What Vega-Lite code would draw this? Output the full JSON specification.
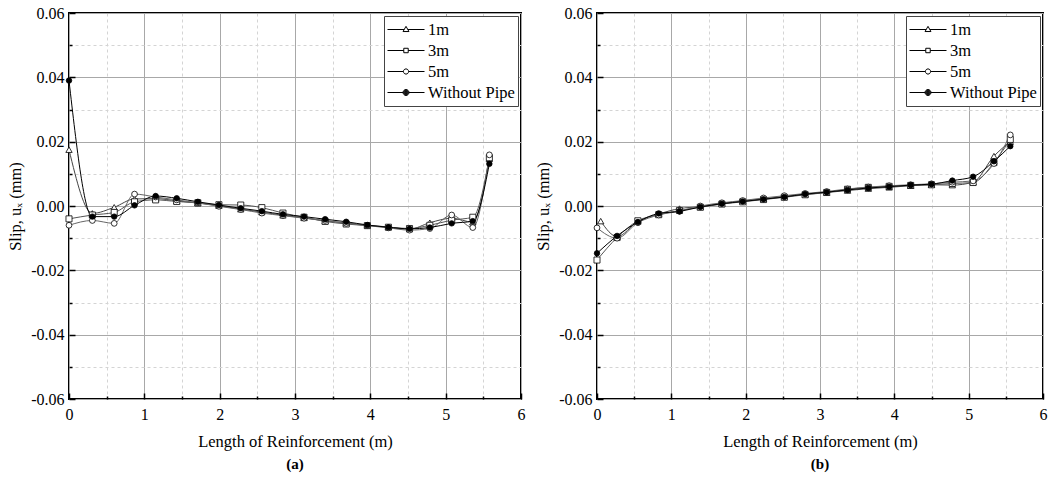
{
"$schema": "https://vega.github.io/schema/vega-lite/v6.json",
"background": "white",
"padding": {"left": 6, "top": 4, "right": 0, "bottom": 0},
"config": {
  "font": "Liberation Serif, Tinos, Times New Roman, DejaVu Serif, serif",
  "view": {"stroke": "black", "strokeWidth": 2},
  "axis": {"labelFont": "Liberation Serif, Tinos, Times New Roman, DejaVu Serif, serif", "titleFont": "Liberation Serif, Tinos, Times New Roman, DejaVu Serif, serif", "labelColor": "black", "titleColor": "black", "titleFontWeight": "normal", "domain": false, "tickColor": "black", "labelFlush": false},
  "legend": {"labelFont": "Liberation Serif, Tinos, Times New Roman, DejaVu Serif, serif"},
  "title": {"font": "Liberation Serif, Tinos, Times New Roman, DejaVu Serif, serif"}
},
"datasets": {
"a": [
{"s":"1m","x":0,"y":0.0175},{"s":"1m","x":0.31,"y":-0.0023},{"s":"1m","x":0.60,"y":-0.0004},{"s":"1m","x":0.87,"y":0.0022},{"s":"1m","x":1.15,"y":0.0023},{"s":"1m","x":1.43,"y":0.0016},{"s":"1m","x":1.71,"y":0.0009},{"s":"1m","x":1.99,"y":0.0001},{"s":"1m","x":2.28,"y":-0.0010},{"s":"1m","x":2.56,"y":-0.0019},{"s":"1m","x":2.84,"y":-0.0029},{"s":"1m","x":3.12,"y":-0.0037},{"s":"1m","x":3.40,"y":-0.0046},{"s":"1m","x":3.68,"y":-0.0053},{"s":"1m","x":3.96,"y":-0.0060},{"s":"1m","x":4.24,"y":-0.0065},{"s":"1m","x":4.52,"y":-0.0072},{"s":"1m","x":4.79,"y":-0.0052},{"s":"1m","x":5.08,"y":-0.0038},{"s":"1m","x":5.36,"y":-0.0050},{"s":"1m","x":5.58,"y":0.0147},
{"s":"3m","x":0,"y":-0.0040},{"s":"3m","x":0.31,"y":-0.0028},{"s":"3m","x":0.60,"y":-0.0020},{"s":"3m","x":0.87,"y":0.0013},{"s":"3m","x":1.15,"y":0.0019},{"s":"3m","x":1.43,"y":0.0014},{"s":"3m","x":1.71,"y":0.0010},{"s":"3m","x":1.99,"y":0.0004},{"s":"3m","x":2.28,"y":0.0003},{"s":"3m","x":2.56,"y":-0.0005},{"s":"3m","x":2.84,"y":-0.0022},{"s":"3m","x":3.12,"y":-0.0035},{"s":"3m","x":3.40,"y":-0.0048},{"s":"3m","x":3.68,"y":-0.0056},{"s":"3m","x":3.96,"y":-0.0061},{"s":"3m","x":4.24,"y":-0.0066},{"s":"3m","x":4.52,"y":-0.0070},{"s":"3m","x":4.79,"y":-0.0060},{"s":"3m","x":5.08,"y":-0.0044},{"s":"3m","x":5.36,"y":-0.0035},{"s":"3m","x":5.58,"y":0.0150},
{"s":"5m","x":0,"y":-0.0060},{"s":"5m","x":0.31,"y":-0.0045},{"s":"5m","x":0.60,"y":-0.0054},{"s":"5m","x":0.87,"y":0.0037},{"s":"5m","x":1.15,"y":0.0028},{"s":"5m","x":1.43,"y":0.0019},{"s":"5m","x":1.71,"y":0.0010},{"s":"5m","x":1.99,"y":-0.0001},{"s":"5m","x":2.28,"y":-0.0011},{"s":"5m","x":2.56,"y":-0.0022},{"s":"5m","x":2.84,"y":-0.0030},{"s":"5m","x":3.12,"y":-0.0038},{"s":"5m","x":3.40,"y":-0.0045},{"s":"5m","x":3.68,"y":-0.0054},{"s":"5m","x":3.96,"y":-0.0061},{"s":"5m","x":4.24,"y":-0.0068},{"s":"5m","x":4.52,"y":-0.0075},{"s":"5m","x":4.79,"y":-0.0070},{"s":"5m","x":5.08,"y":-0.0028},{"s":"5m","x":5.36,"y":-0.0067},{"s":"5m","x":5.58,"y":0.0159},
{"s":"Without Pipe","x":0,"y":0.0390},{"s":"Without Pipe","x":0.31,"y":-0.0033},{"s":"Without Pipe","x":0.60,"y":-0.0033},{"s":"Without Pipe","x":0.87,"y":0.0002},{"s":"Without Pipe","x":1.15,"y":0.0031},{"s":"Without Pipe","x":1.43,"y":0.0024},{"s":"Without Pipe","x":1.71,"y":0.0013},{"s":"Without Pipe","x":1.99,"y":0.0003},{"s":"Without Pipe","x":2.28,"y":-0.0007},{"s":"Without Pipe","x":2.56,"y":-0.0016},{"s":"Without Pipe","x":2.84,"y":-0.0026},{"s":"Without Pipe","x":3.12,"y":-0.0033},{"s":"Without Pipe","x":3.40,"y":-0.0041},{"s":"Without Pipe","x":3.68,"y":-0.0049},{"s":"Without Pipe","x":3.96,"y":-0.0059},{"s":"Without Pipe","x":4.24,"y":-0.0066},{"s":"Without Pipe","x":4.52,"y":-0.0071},{"s":"Without Pipe","x":4.79,"y":-0.0067},{"s":"Without Pipe","x":5.08,"y":-0.0054},{"s":"Without Pipe","x":5.36,"y":-0.0047},{"s":"Without Pipe","x":5.58,"y":0.0131}
],
"b": [
{"s":"1m","x":0.05,"y":-0.0047},{"s":"1m","x":0.27,"y":-0.0095},{"s":"1m","x":0.55,"y":-0.0048},{"s":"1m","x":0.83,"y":-0.0025},{"s":"1m","x":1.11,"y":-0.0008},{"s":"1m","x":1.39,"y":-0.0002},{"s":"1m","x":1.68,"y":0.0008},{"s":"1m","x":1.96,"y":0.0016},{"s":"1m","x":2.24,"y":0.0022},{"s":"1m","x":2.52,"y":0.0030},{"s":"1m","x":2.80,"y":0.0036},{"s":"1m","x":3.09,"y":0.0042},{"s":"1m","x":3.37,"y":0.0048},{"s":"1m","x":3.65,"y":0.0054},{"s":"1m","x":3.93,"y":0.0058},{"s":"1m","x":4.22,"y":0.0063},{"s":"1m","x":4.50,"y":0.0066},{"s":"1m","x":4.78,"y":0.0065},{"s":"1m","x":5.06,"y":0.0074},{"s":"1m","x":5.34,"y":0.0155},{"s":"1m","x":5.56,"y":0.0200},
{"s":"3m","x":0,"y":-0.0168},{"s":"3m","x":0.27,"y":-0.0098},{"s":"3m","x":0.55,"y":-0.0046},{"s":"3m","x":0.83,"y":-0.0027},{"s":"3m","x":1.11,"y":-0.0014},{"s":"3m","x":1.39,"y":-0.0004},{"s":"3m","x":1.68,"y":0.0006},{"s":"3m","x":1.96,"y":0.0013},{"s":"3m","x":2.24,"y":0.0020},{"s":"3m","x":2.52,"y":0.0027},{"s":"3m","x":2.80,"y":0.0035},{"s":"3m","x":3.09,"y":0.0042},{"s":"3m","x":3.37,"y":0.0052},{"s":"3m","x":3.65,"y":0.0058},{"s":"3m","x":3.93,"y":0.0061},{"s":"3m","x":4.22,"y":0.0064},{"s":"3m","x":4.50,"y":0.0066},{"s":"3m","x":4.78,"y":0.0070},{"s":"3m","x":5.06,"y":0.0073},{"s":"3m","x":5.34,"y":0.0135},{"s":"3m","x":5.56,"y":0.0207},
{"s":"5m","x":0,"y":-0.0068},{"s":"5m","x":0.27,"y":-0.0100},{"s":"5m","x":0.55,"y":-0.0052},{"s":"5m","x":0.83,"y":-0.0028},{"s":"5m","x":1.11,"y":-0.0016},{"s":"5m","x":1.39,"y":0.0000},{"s":"5m","x":1.68,"y":0.0010},{"s":"5m","x":1.96,"y":0.0017},{"s":"5m","x":2.24,"y":0.0025},{"s":"5m","x":2.52,"y":0.0032},{"s":"5m","x":2.80,"y":0.0039},{"s":"5m","x":3.09,"y":0.0045},{"s":"5m","x":3.37,"y":0.0053},{"s":"5m","x":3.65,"y":0.0059},{"s":"5m","x":3.93,"y":0.0063},{"s":"5m","x":4.22,"y":0.0066},{"s":"5m","x":4.50,"y":0.0069},{"s":"5m","x":4.78,"y":0.0074},{"s":"5m","x":5.06,"y":0.0078},{"s":"5m","x":5.34,"y":0.0132},{"s":"5m","x":5.56,"y":0.0221},
{"s":"Without Pipe","x":0,"y":-0.0147},{"s":"Without Pipe","x":0.27,"y":-0.0093},{"s":"Without Pipe","x":0.55,"y":-0.0050},{"s":"Without Pipe","x":0.83,"y":-0.0023},{"s":"Without Pipe","x":1.11,"y":-0.0017},{"s":"Without Pipe","x":1.39,"y":-0.0003},{"s":"Without Pipe","x":1.68,"y":0.0007},{"s":"Without Pipe","x":1.96,"y":0.0014},{"s":"Without Pipe","x":2.24,"y":0.0021},{"s":"Without Pipe","x":2.52,"y":0.0028},{"s":"Without Pipe","x":2.80,"y":0.0037},{"s":"Without Pipe","x":3.09,"y":0.0043},{"s":"Without Pipe","x":3.37,"y":0.0050},{"s":"Without Pipe","x":3.65,"y":0.0056},{"s":"Without Pipe","x":3.93,"y":0.0060},{"s":"Without Pipe","x":4.22,"y":0.0065},{"s":"Without Pipe","x":4.50,"y":0.0068},{"s":"Without Pipe","x":4.78,"y":0.0079},{"s":"Without Pipe","x":5.06,"y":0.0091},{"s":"Without Pipe","x":5.34,"y":0.0139},{"s":"Without Pipe","x":5.56,"y":0.0186}
]
},
"spacing": 8,
"resolve": {"scale": {"shape": "independent", "fill": "independent", "color": "independent", "size": "independent"}},
"hconcat": [
{
  "width": 452, "height": 386,
  "data": {"name": "a"},
  "title": {"text": "(a)", "orient": "bottom", "frame": "group", "anchor": "middle", "fontSize": 15, "fontWeight": "bold", "color": "black", "offset": 7},
  "resolve": {"axis": {"x": "independent", "y": "independent"}, "scale": {"shape": "independent"}},
  "layer": [
    {
      "mark": {"type": "line", "interpolate": "monotone", "strokeWidth": 1},
      "encoding": {
        "x": {"field": "x", "type": "quantitative", "scale": {"domain": [0, 6], "nice": false, "zero": false},
          "axis": {"orient": "bottom", "values": [0.5, 1.5, 2.5, 3.5, 4.5, 5.5], "labels": false, "title": null, "grid": true, "gridDash": [3, 3], "gridColor": "#d4d4d4", "tickSize": -3, "tickWidth": 1.5}},
        "y": {"field": "y", "type": "quantitative", "scale": {"domain": [-0.06, 0.06], "nice": false, "zero": false},
          "axis": {"orient": "left", "values": [-0.05, -0.03, -0.01, 0.01, 0.03, 0.05], "labels": false, "title": null, "grid": true, "gridDash": [3, 3], "gridColor": "#d4d4d4", "tickSize": -3, "tickWidth": 1.5}},
        "color": {"field": "s", "type": "nominal", "scale": {"domain": ["1m", "3m", "5m", "Without Pipe"], "range": ["#444444", "#555555", "#666666", "#000000"]}, "legend": null}
      }
    },
    {
      "mark": {"type": "point", "filled": true, "stroke": "black", "strokeWidth": 0.8, "opacity": 1},
      "encoding": {
        "x": {"field": "x", "type": "quantitative",
          "axis": {"orient": "bottom", "values": [0, 1, 2, 3, 4, 5, 6], "format": "d", "grid": true, "gridColor": "#a8a8a8", "tickSize": -6, "tickWidth": 1.5, "labelPadding": 13, "labelFontSize": 16, "labelFont": "Liberation Serif, Tinos, Times New Roman, serif", "title": "Length of Reinforcement (m)", "titleFont": "Liberation Serif, Tinos, Times New Roman, serif", "titleFontSize": 16.5, "titlePadding": 11}},
        "y": {"field": "y", "type": "quantitative",
          "axis": {"orient": "left", "values": [-0.06, -0.04, -0.02, 0, 0.02, 0.04, 0.06], "labelExpr": "replace(format(datum.value, '.2f'), '\u2212', '-')", "grid": true, "gridColor": "#a8a8a8", "tickSize": -6, "tickWidth": 1.5, "labelPadding": 11, "labelFontSize": 16, "labelFont": "Liberation Serif, Tinos, Times New Roman, serif", "title": "Slip, uₓ (mm)", "titleFont": "Liberation Serif, Tinos, Times New Roman, serif", "titleFontSize": 16.5, "titlePadding": 7}},
        "shape": {"field": "s", "type": "nominal", "scale": {"domain": ["1m", "3m", "5m", "Without Pipe"], "range": ["triangle-up", "square", "circle", "circle"]}, "legend": null},
        "fill": {"field": "s", "type": "nominal", "scale": {"domain": ["1m", "3m", "5m", "Without Pipe"], "range": ["white", "white", "white", "black"]}, "legend": null},
        "size": {"field": "s", "type": "nominal", "scale": {"domain": ["1m", "3m", "5m", "Without Pipe"], "range": [40, 30, 45, 70]}, "legend": null}
      }
    },
    {
      "transform": [{"filter": "false"}],
      "mark": {"type": "point", "filled": false, "stroke": "black", "strokeWidth": 1, "opacity": 1, "size": 1369},
      "encoding": {
        "shape": {"field": "s", "type": "nominal", "scale": {"domain": ["1m", "3m", "5m", "Without Pipe"], "range": ["M-1,0H-0.1M0.1,0H1M0,-0.17L0.16,0.11L-0.16,0.11Z", "M-1,0H-0.12M0.12,0H1M-0.12,-0.12H0.12V0.12H-0.12Z", "M-1,0H-0.14M0.14,0H1M-0.14,0A0.14,0.14 0 1,0 0.14,0A0.14,0.14 0 1,0 -0.14,0Z", "M-1,0H-0.16M0.16,0H1M-0.16,0A0.16,0.16 0 1,0 0.16,0A0.16,0.16 0 1,0 -0.16,0ZM-0.13,0A0.13,0.13 0 1,0 0.13,0A0.13,0.13 0 1,0 -0.13,0ZM-0.1,0A0.1,0.1 0 1,0 0.1,0A0.1,0.1 0 1,0 -0.1,0ZM-0.07,0A0.07,0.07 0 1,0 0.07,0A0.07,0.07 0 1,0 -0.07,0ZM-0.04,0A0.04,0.04 0 1,0 0.04,0A0.04,0.04 0 1,0 -0.04,0ZM-0.015,0A0.015,0.015 0 1,0 0.015,0A0.015,0.015 0 1,0 -0.015,0Z"]},
          "legend": {"title": null, "orient": "top-right", "offset": 3, "padding": 3, "strokeColor": "#444444", "fillColor": "white", "labelFontSize": 16.5, "labelColor": "black", "symbolSize": 1369, "clipHeight": 21, "rowPadding": 0, "labelOffset": 3, "symbolStrokeWidth": 1, "symbolStrokeColor": "black", "symbolFillColor": "white", "symbolOpacity": 1}}
      }
    }
  ]
},
{
  "width": 446, "height": 386,
  "data": {"name": "b"},
  "title": {"text": "(b)", "orient": "bottom", "frame": "group", "anchor": "middle", "fontSize": 15, "fontWeight": "bold", "color": "black", "offset": 7},
  "resolve": {"axis": {"x": "independent", "y": "independent"}, "scale": {"shape": "independent"}},
  "layer": [
    {
      "mark": {"type": "line", "interpolate": "monotone", "strokeWidth": 1},
      "encoding": {
        "x": {"field": "x", "type": "quantitative", "scale": {"domain": [0, 6], "nice": false, "zero": false},
          "axis": {"orient": "bottom", "values": [0.5, 1.5, 2.5, 3.5, 4.5, 5.5], "labels": false, "title": null, "grid": true, "gridDash": [3, 3], "gridColor": "#d4d4d4", "tickSize": -3, "tickWidth": 1.5}},
        "y": {"field": "y", "type": "quantitative", "scale": {"domain": [-0.06, 0.06], "nice": false, "zero": false},
          "axis": {"orient": "left", "values": [-0.05, -0.03, -0.01, 0.01, 0.03, 0.05], "labels": false, "title": null, "grid": true, "gridDash": [3, 3], "gridColor": "#d4d4d4", "tickSize": -3, "tickWidth": 1.5}},
        "color": {"field": "s", "type": "nominal", "scale": {"domain": ["1m", "3m", "5m", "Without Pipe"], "range": ["#444444", "#555555", "#666666", "#000000"]}, "legend": null}
      }
    },
    {
      "mark": {"type": "point", "filled": true, "stroke": "black", "strokeWidth": 0.8, "opacity": 1},
      "encoding": {
        "x": {"field": "x", "type": "quantitative",
          "axis": {"orient": "bottom", "values": [0, 1, 2, 3, 4, 5, 6], "format": "d", "grid": true, "gridColor": "#a8a8a8", "tickSize": -6, "tickWidth": 1.5, "labelPadding": 13, "labelFontSize": 16, "labelFont": "Liberation Serif, Tinos, Times New Roman, serif", "title": "Length of Reinforcement (m)", "titleFont": "Liberation Serif, Tinos, Times New Roman, serif", "titleFontSize": 16.5, "titlePadding": 11}},
        "y": {"field": "y", "type": "quantitative",
          "axis": {"orient": "left", "values": [-0.06, -0.04, -0.02, 0, 0.02, 0.04, 0.06], "labelExpr": "replace(format(datum.value, '.2f'), '\u2212', '-')", "grid": true, "gridColor": "#a8a8a8", "tickSize": -6, "tickWidth": 1.5, "labelPadding": 11, "labelFontSize": 16, "labelFont": "Liberation Serif, Tinos, Times New Roman, serif", "title": "Slip, uₓ (mm)", "titleFont": "Liberation Serif, Tinos, Times New Roman, serif", "titleFontSize": 16.5, "titlePadding": 7}},
        "shape": {"field": "s", "type": "nominal", "scale": {"domain": ["1m", "3m", "5m", "Without Pipe"], "range": ["triangle-up", "square", "circle", "circle"]}, "legend": null},
        "fill": {"field": "s", "type": "nominal", "scale": {"domain": ["1m", "3m", "5m", "Without Pipe"], "range": ["white", "white", "white", "black"]}, "legend": null},
        "size": {"field": "s", "type": "nominal", "scale": {"domain": ["1m", "3m", "5m", "Without Pipe"], "range": [40, 30, 45, 70]}, "legend": null}
      }
    },
    {
      "transform": [{"filter": "false"}],
      "mark": {"type": "point", "filled": false, "stroke": "black", "strokeWidth": 1, "opacity": 1, "size": 1369},
      "encoding": {
        "shape": {"field": "s", "type": "nominal", "scale": {"domain": ["1m", "3m", "5m", "Without Pipe"], "range": ["M-1,0H-0.1M0.1,0H1M0,-0.17L0.16,0.11L-0.16,0.11Z", "M-1,0H-0.12M0.12,0H1M-0.12,-0.12H0.12V0.12H-0.12Z", "M-1,0H-0.14M0.14,0H1M-0.14,0A0.14,0.14 0 1,0 0.14,0A0.14,0.14 0 1,0 -0.14,0Z", "M-1,0H-0.16M0.16,0H1M-0.16,0A0.16,0.16 0 1,0 0.16,0A0.16,0.16 0 1,0 -0.16,0ZM-0.13,0A0.13,0.13 0 1,0 0.13,0A0.13,0.13 0 1,0 -0.13,0ZM-0.1,0A0.1,0.1 0 1,0 0.1,0A0.1,0.1 0 1,0 -0.1,0ZM-0.07,0A0.07,0.07 0 1,0 0.07,0A0.07,0.07 0 1,0 -0.07,0ZM-0.04,0A0.04,0.04 0 1,0 0.04,0A0.04,0.04 0 1,0 -0.04,0ZM-0.015,0A0.015,0.015 0 1,0 0.015,0A0.015,0.015 0 1,0 -0.015,0Z"]},
          "legend": {"title": null, "orient": "top-right", "offset": 3, "padding": 3, "strokeColor": "#444444", "fillColor": "white", "labelFontSize": 16.5, "labelColor": "black", "symbolSize": 1369, "clipHeight": 21, "rowPadding": 0, "labelOffset": 3, "symbolStrokeWidth": 1, "symbolStrokeColor": "black", "symbolFillColor": "white", "symbolOpacity": 1}}
      }
    }
  ]
}
]
}
